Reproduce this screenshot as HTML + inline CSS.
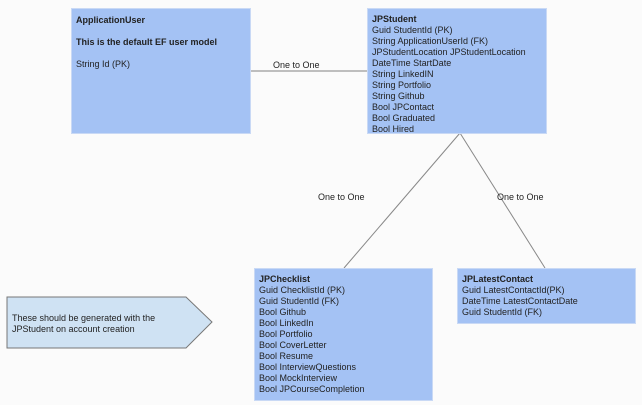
<!DOCTYPE html>
<html><head><style>
body{margin:0;width:642px;height:405px;background:#fbfbfb;position:relative;overflow:hidden;font-family:"Liberation Sans",Arial,sans-serif;font-size:9px;color:#222}
.b{position:absolute;background:#a4c2f4;border:1px solid #c9d9f5;box-sizing:border-box;padding:5px 4px;line-height:11px}
b{font-weight:bold}
.l{position:absolute;font-size:9px}
</style></head><body>
<svg width="642" height="405" style="position:absolute;left:0;top:0">
<line x1="250" y1="71" x2="368" y2="71" stroke="#aaa" stroke-width="1.5"/>
<line x1="460" y1="133" x2="344" y2="268" stroke="#888" stroke-width="1"/>
<line x1="460" y1="133" x2="545" y2="268" stroke="#888" stroke-width="1"/>
<polygon points="7,297 186,297 212,322 186,348 7,348" fill="#cfe2f3" stroke="#777" stroke-width="1"/>
</svg>
<div class="b" style="left:71px;top:8px;width:180px;height:126px;padding-top:6px;line-height:11px"><b>ApplicationUser</b><br><br><b>This is the default EF user model</b><br><br>String Id (PK)</div>
<div class="b" style="left:367px;top:8px;width:180px;height:126px"><b>JPStudent</b><br>Guid StudentId (PK)<br>String ApplicationUserId (FK)<br>JPStudentLocation JPStudentLocation<br>DateTime StartDate<br>String LinkedIN<br>String Portfolio<br>String Github<br>Bool JPContact<br>Bool Graduated<br>Bool Hired</div>
<div class="b" style="left:254px;top:268px;width:179px;height:133px"><b>JPChecklist</b><br>Guid ChecklistId (PK)<br>Guid StudentId (FK)<br>Bool Github<br>Bool LinkedIn<br>Bool Portfolio<br>Bool CoverLetter<br>Bool Resume<br>Bool InterviewQuestions<br>Bool MockInterview<br>Bool JPCourseCompletion</div>
<div class="b" style="left:457px;top:268px;width:179px;height:56px"><b>JPLatestContact</b><br>Guid LatestContactId(PK)<br>DateTime LatestContactDate<br>Guid StudentId (FK)</div>
<div class="l" style="left:12px;top:313px;line-height:11px">These should be generated with the<br>JPStudent on account creation</div>
<div class="l" style="left:273px;top:60px">One to One</div>
<div class="l" style="left:318px;top:192px">One to One</div>
<div class="l" style="left:497px;top:192px">One to One</div>
</body></html>
